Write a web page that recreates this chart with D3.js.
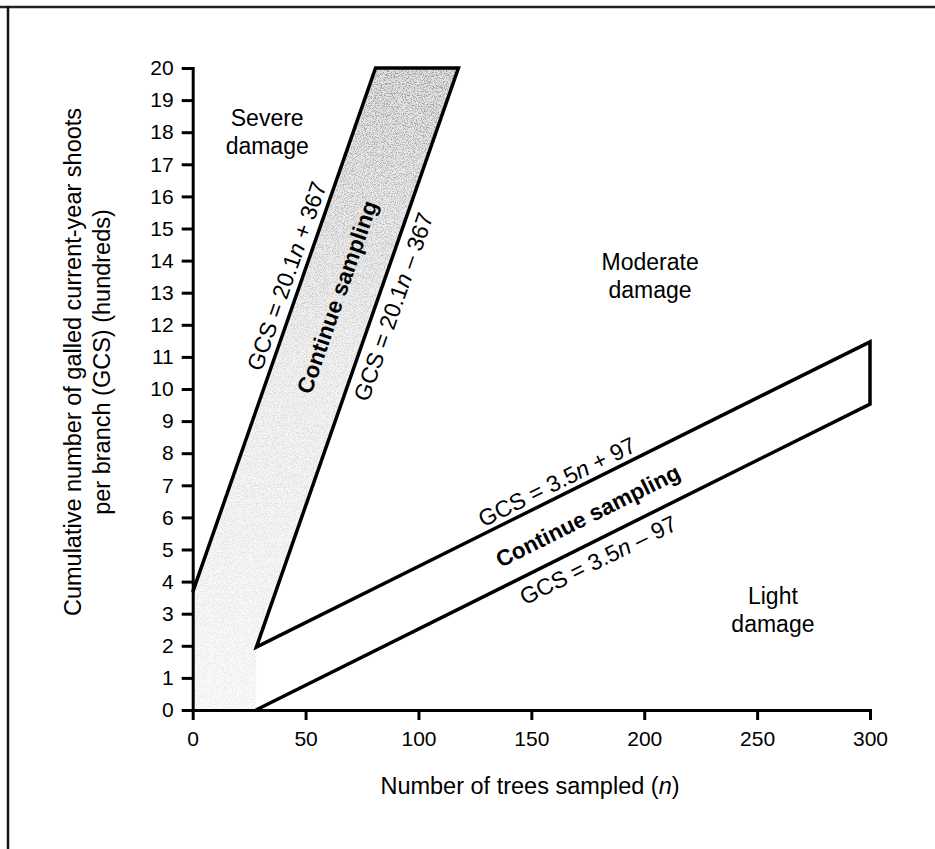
<!DOCTYPE html>
<html>
<head>
<meta charset="utf-8">
<script src="https://cdn.jsdelivr.net/npm/d3@7"></script>
<style>
  body { margin: 0; background: #fff; }
  svg { font-family: "Liberation Sans", Arial, sans-serif; }
  .axis path, .axis line { stroke: #000; stroke-width: 3; }
  .axis text { fill: #000; }
</style>
</head>
<body>
<div id="chart"></div>
<script>
// tick values
var xTicks = [0, 50, 100, 150, 200, 250, 300];
var yTicks = d3.range(0, 21);

// boundary outline (n, GCS in hundreds)
var outlineN   = [0,    81, 117.7, 28.2, 300,   300,  28];
var outlineGCS = [3.67, 20, 20,    1.96, 11.47, 9.53, 0];

// stippled "continue sampling" zone of the steep band
var shadeN   = [0, 0,    81, 117.7, 28.2, 28];
var shadeGCS = [0, 3.67, 20, 20,    1.96, 0];

// equation labels along the lines
var eqCoef   = ["20.1", "20.1", "3.5", "3.5"];
var eqConst  = ["+ 367", "\u2013 367", "+ 97", "\u2013 97"];
var eqN      = [41.6, 88.9, 161.3, 179.6];
var eqGCS    = [13.52, 12.56, 7.11, 4.67];
var eqSlope  = [20.1, 20.1, 3.5, 3.5];

// "Continue sampling" labels
var contN     = [64.1, 175.1];
var contGCS   = [12.86, 6.04];
var contSlope = [20.1, 3.5];

// damage zones
var zoneText = [["Severe", "damage"], ["Moderate", "damage"], ["Light", "damage"]];
var zoneN    = [33, 202.6, 257];
var zoneGCS  = [18.19, 13.7, 3.3];

var SprtChart = function() {};

SprtChart.prototype.create = function(el, opts) {
    this.opts = opts;
    this.svg = d3.select(el).append("svg")
        .attr("width", opts.width)
        .attr("height", opts.height);

    this._frame();
    this._scales();
    this._defs();
    this._draw();
    this._axes();
    this._labels();
    return this;
};

SprtChart.prototype._frame = function() {
    // scanned page edge: only top and left rules show
    this.svg.append("line")
        .attr("x1", 0).attr("x2", this.opts.width)
        .attr("y1", 7).attr("y2", 7)
        .attr("stroke", "#222").attr("stroke-width", 2.5);
    this.svg.append("line")
        .attr("x1", 8).attr("x2", 8)
        .attr("y1", 6).attr("y2", this.opts.height)
        .attr("stroke", "#111").attr("stroke-width", 2.5);
};

SprtChart.prototype._scales = function() {
    this.x = d3.scaleLinear().domain([0, 300]).range([192.7, 870]);
    this.y = d3.scaleLinear().domain([0, 20]).range([710, 68]);
};

SprtChart.prototype._defs = function() {
    var y = this.y;
    var defs = this.svg.append("defs");

    var base = defs.append("linearGradient")
        .attr("id", "shade-base")
        .attr("gradientUnits", "userSpaceOnUse")
        .attr("x1", 0).attr("y1", y(20))
        .attr("x2", 0).attr("y2", y(0));
    base.append("stop").attr("offset", 0).attr("stop-color", "#e2e2e2");
    base.append("stop").attr("offset", 0.45).attr("stop-color", "#f3f3f3");
    base.append("stop").attr("offset", 1).attr("stop-color", "#fbfbfb");

    var dots = defs.append("linearGradient")
        .attr("id", "shade-dots")
        .attr("gradientUnits", "userSpaceOnUse")
        .attr("x1", 0).attr("y1", y(20))
        .attr("x2", 0).attr("y2", y(0));
    dots.append("stop").attr("offset", 0).attr("stop-color", "#808080").attr("stop-opacity", 0.7);
    dots.append("stop").attr("offset", 0.45).attr("stop-color", "#a0a0a0").attr("stop-opacity", 0.3);
    dots.append("stop").attr("offset", 1).attr("stop-color", "#b0b0b0").attr("stop-opacity", 0.2);

    // grainy stipple like the printed screen
    var f = defs.append("filter").attr("id", "stipple")
        .attr("x", 0).attr("y", 0).attr("width", 1).attr("height", 1);
    f.append("feTurbulence")
        .attr("type", "fractalNoise").attr("baseFrequency", 0.9)
        .attr("numOctaves", 2).attr("seed", 7).attr("result", "noise");
    f.append("feColorMatrix")
        .attr("in", "noise").attr("type", "matrix")
        .attr("values", "0 0 0 0 0  0 0 0 0 0  0 0 0 0 0  5 0 0 0 -2.3")
        .attr("result", "mask");
    f.append("feComposite")
        .attr("in", "SourceGraphic").attr("in2", "mask").attr("operator", "in");
};

SprtChart.prototype._axes = function() {
    var xAxis = d3.axisBottom(this.x)
        .tickValues(xTicks).tickSize(10).tickSizeOuter(0).tickPadding(11);
    var yAxis = d3.axisLeft(this.y)
        .tickValues(yTicks).tickSize(11).tickSizeOuter(0).tickPadding(8);

    var gx = this.svg.append("g").attr("class", "axis x-axis")
        .attr("transform", "translate(0," + this.y(0) + ")")
        .call(xAxis);
    gx.selectAll("text").attr("font-size", 21);

    var gy = this.svg.append("g").attr("class", "axis y-axis")
        .attr("transform", "translate(" + this.x(0) + ",0)")
        .call(yAxis);
    gy.selectAll("text").attr("font-size", 21);
    this.svg.selectAll(".axis path").attr("stroke-linecap", "square");

    var xt = this.svg.append("text")
        .attr("x", 530).attr("y", 794)
        .attr("text-anchor", "middle")
        .attr("font-size", 23.5);
    xt.append("tspan").text("Number of trees sampled (");
    xt.append("tspan").attr("font-style", "italic").text("n");
    xt.append("tspan").text(")");

    var yt = this.svg.append("text")
        .attr("transform", "translate(81,362) rotate(-90)")
        .attr("text-anchor", "middle")
        .attr("font-size", 23.5);
    yt.append("tspan").attr("x", 0).attr("dy", 0)
        .text("Cumulative number of galled current-year shoots");
    yt.append("tspan").attr("x", 0).attr("dy", 29)
        .text("per branch (GCS) (hundreds)");
};

SprtChart.prototype._draw = function() {
    var x = this.x, y = this.y;

    var shadePts = shadeN.map(function(n, i) { return [n, shadeGCS[i]]; });
    var outlinePts = outlineN.map(function(n, i) { return [n, outlineGCS[i]]; });

    var line = d3.line()
        .x(function(d) { return x(d[0]); })
        .y(function(d) { return y(d[1]); });

    this.svg.append("path")
        .datum(shadePts)
        .attr("d", line.curve(d3.curveLinearClosed))
        .attr("fill", "url(#shade-base)");

    this.svg.append("path")
        .datum(shadePts)
        .attr("d", line.curve(d3.curveLinearClosed))
        .attr("fill", "url(#shade-dots)")
        .attr("filter", "url(#stipple)");

    this.svg.append("path")
        .datum(outlinePts)
        .attr("d", line.curve(d3.curveLinear))
        .attr("fill", "none")
        .attr("stroke", "#000")
        .attr("stroke-width", 3.5)
        .attr("stroke-linejoin", "miter");
};

SprtChart.prototype._angle = function(slope) {
    // on-screen angle of a GCS = slope*n line (GCS in plain units, axis in hundreds)
    var dx = this.x(100) - this.x(0);
    var dy = this.y(slope) - this.y(0);
    return Math.atan2(dy, dx) * 180 / Math.PI;
};

SprtChart.prototype._labels = function() {
    var self = this, x = this.x, y = this.y;

    eqCoef.forEach(function(c, i) {
        var t = self.svg.append("text")
            .attr("transform", "translate(" + x(eqN[i]) + "," + y(eqGCS[i]) + ") rotate(" + self._angle(eqSlope[i]) + ")")
            .attr("text-anchor", "middle")
            .attr("dominant-baseline", "central")
            .attr("font-size", 23);
        t.append("tspan").text("GCS = " + c);
        t.append("tspan").attr("font-style", "italic").text("n");
        t.append("tspan").text(" " + eqConst[i]);
    });

    contN.forEach(function(n, i) {
        self.svg.append("text")
            .attr("transform", "translate(" + x(n) + "," + y(contGCS[i]) + ") rotate(" + self._angle(contSlope[i]) + ")")
            .attr("text-anchor", "middle")
            .attr("dominant-baseline", "central")
            .attr("font-size", 22.5)
            .attr("font-weight", "bold")
            .text("Continue sampling");
    });

    zoneText.forEach(function(lines, i) {
        var t = self.svg.append("text")
            .attr("x", x(zoneN[i])).attr("y", y(zoneGCS[i]))
            .attr("text-anchor", "middle")
            .attr("font-size", 23);
        lines.forEach(function(s, j) {
            t.append("tspan").attr("x", x(zoneN[i])).attr("dy", j ? 27.5 : 0).text(s);
        });
    });
};

var chart = new SprtChart().create("#chart", { width: 935, height: 849 });
</script>
</body>
</html>
